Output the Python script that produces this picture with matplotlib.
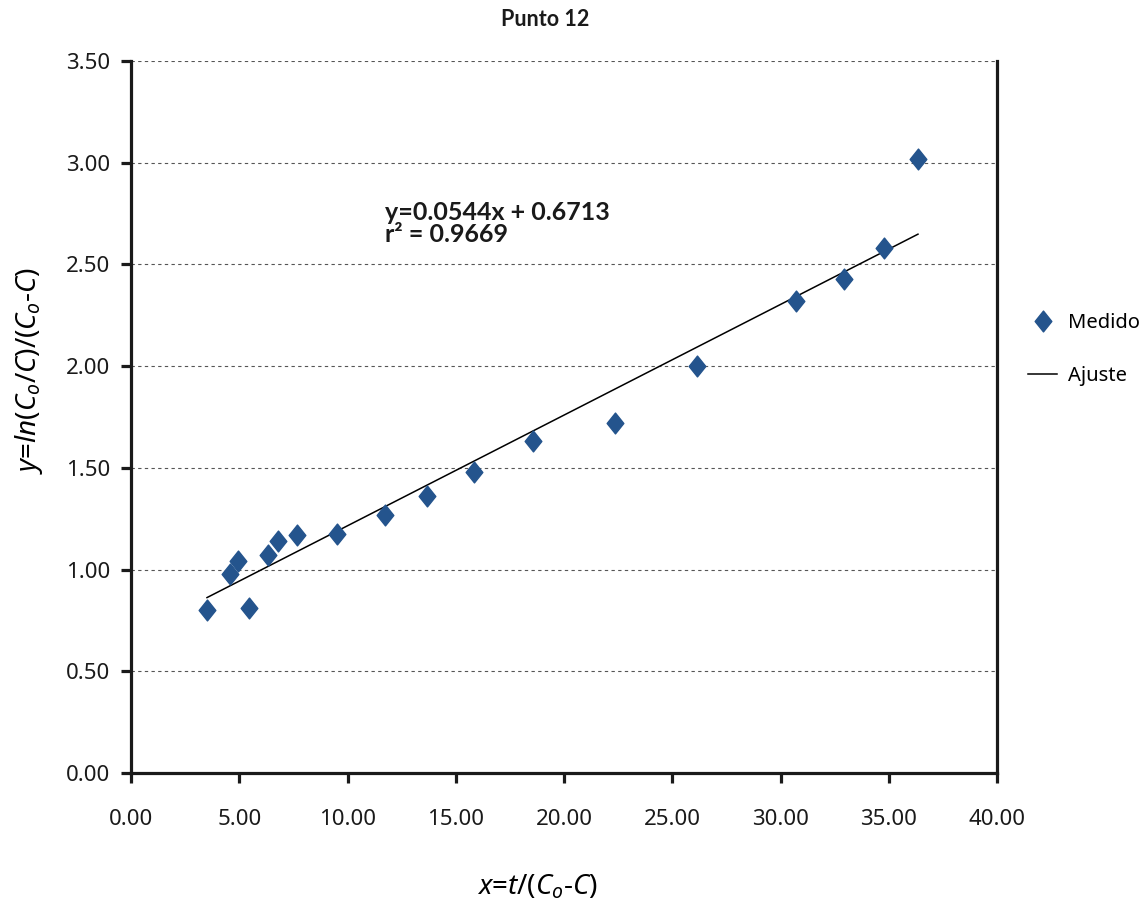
import numpy as np
import matplotlib
matplotlib.use("Agg")
import matplotlib.pyplot as plt
from matplotlib.path import Path

plt.rcParams["font.family"] = ["Noto Sans", "DejaVu Sans"]
plt.rcParams["mathtext.fontset"] = "custom"
plt.rcParams["mathtext.rm"] = "Noto Sans"
plt.rcParams["mathtext.it"] = "Noto Sans:italic"

# --- datos ---
x_medido = [3.51, 4.57, 4.94, 5.45, 6.33, 6.79, 7.67, 9.51, 11.73, 13.67,
            15.84, 18.57, 22.36, 26.14, 30.72, 32.93, 34.78, 36.35]
y_medido = [0.80, 0.98, 1.04, 0.81, 1.07, 1.14, 1.17, 1.175, 1.27, 1.36,
            1.48, 1.63, 1.72, 2.00, 2.32, 2.43, 2.58, 3.02]
pendiente, ordenada, r2 = 0.0544, 0.6713, 0.9669
xticks = [0, 5, 10, 15, 20, 25, 30, 35, 40]
yticks = [0, 0.5, 1.0, 1.5, 2.0, 2.5, 3.0, 3.5]

AZUL = "#24548d"
NEGRO = "#1a1a1a"
diamante = Path([(0, 1), (0.8, 0), (0, -1), (-0.8, 0), (0, 1)],
                [Path.MOVETO, Path.LINETO, Path.LINETO, Path.LINETO, Path.CLOSEPOLY])

fig = plt.figure(figsize=(11.44, 9.05), dpi=100)
ax = fig.add_axes([131 / 1144, 1 - 773 / 905, (997 - 131) / 1144, (773 - 61) / 905])

ax.plot(x_medido, y_medido, linestyle="none", marker=diamante, markersize=15,
        color=AZUL, label="Medido", zorder=3)
xf = np.array([min(x_medido), max(x_medido)])
ax.plot(xf, pendiente * xf + ordenada, color="black", lw=1.1, label="Ajuste", zorder=2)

ax.set_xlim(0, 40)
ax.set_ylim(0, 3.5)
ax.set_xticks(xticks)
ax.set_xticklabels([f"{v:.2f}" for v in xticks])
ax.set_yticks(yticks)
ax.set_yticklabels([f"{v:.2f}" for v in yticks])
ax.yaxis.grid(True, linestyle=(0, (3, 3)), color="#555555", lw=0.8)
ax.set_axisbelow(True)

for s in ["left", "bottom", "right"]:
    ax.spines[s].set_linewidth(2.3)
    ax.spines[s].set_color(NEGRO)
ax.spines["top"].set_visible(False)
ax.tick_params(axis="x", direction="out", length=7, width=2.3, pad=19,
               labelsize=16, colors=NEGRO)
ax.tick_params(axis="y", direction="out", length=7, width=2.3, pad=8,
               labelsize=16, colors=NEGRO)

ax.set_xlabel(r"$x$=$t$/($C_o$-$C$)", fontsize=20)
ax.set_ylabel(r"$y$=$ln$($C_o$/$C$)/($C_o$-$C$)", fontsize=20)
ax.xaxis.set_label_coords(0.469, -0.140)
ax.yaxis.set_label_coords(-0.099, 0.565)

ax.text(11.75, 2.70, f"y={pendiente}x + {ordenada}\nr² = {r2}",
        fontsize=18, fontweight="bold", family="Lato", color=NEGRO,
        va="center", linespacing=0.95)

fig.text(545 / 1144, 1 - 20 / 905, "Punto 12", ha="center", va="center",
         fontsize=15.5, fontweight="bold", family="Lato", color=NEGRO)

ax.legend(loc="center left", bbox_to_anchor=(1.015, 0.595), frameon=False,
          fontsize=14.5, handlelength=1.45, labelspacing=1.65, handletextpad=0.55)

fig.savefig("out.png", dpi=100)
